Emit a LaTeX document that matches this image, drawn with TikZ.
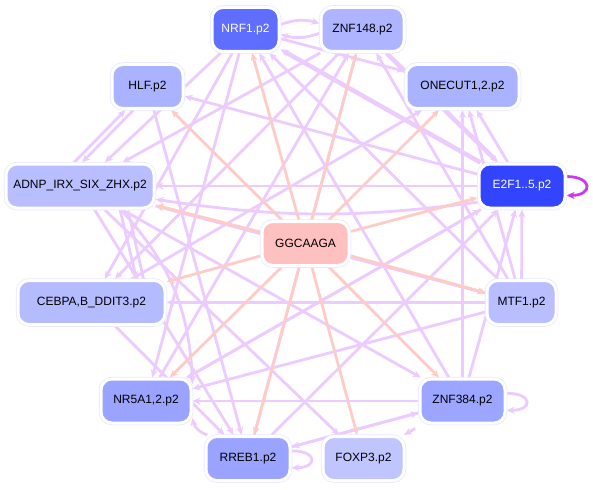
\documentclass[tikz,border=0pt]{standalone}
\usepackage{fontspec}
\setmainfont{Liberation Sans}
\usetikzlibrary{arrows.meta,backgrounds}
\definecolor{pedge}{HTML}{ECCBFF}
\definecolor{redge}{HTML}{FFCBC6}
\definecolor{lav}{HTML}{E6E8FF}
\definecolor{loopc}{HTML}{CC3AEE}
\definecolor{cNRF}{HTML}{5F6EFF}
\definecolor{cZNFa}{HTML}{AEB4FF}
\definecolor{cHLF}{HTML}{AAB3FF}
\definecolor{cONE}{HTML}{AAB3FF}
\definecolor{cADNP}{HTML}{B8BEFF}
\definecolor{cE2F}{HTML}{3344FF}
\definecolor{cGG}{HTML}{FFC0C0}
\definecolor{cCEB}{HTML}{B5BBFF}
\definecolor{cMTF}{HTML}{B8BEFF}
\definecolor{cNR5}{HTML}{9AA3FF}
\definecolor{cZNFb}{HTML}{9CA5FF}
\definecolor{cRRE}{HTML}{9AA3FF}
\definecolor{cFOX}{HTML}{C0C5FF}
\tikzset{
  tf/.style={rounded corners=11pt, minimum height=44pt, inner sep=0pt,
    font=\fontsize{12}{14}\selectfont,
    preaction={draw=lav, line width=4.5pt},
    draw=white, line width=3pt},
  pe/.style={draw=pedge, line width=2.8pt, -{Stealth[length=8pt,width=7pt]}},
  pthick/.style={pe, line width=4.5pt},
  re/.style={draw=redge, line width=2.8pt, -{Stealth[length=8pt,width=7pt]}},
  lp/.style={pe, looseness=4}
}
\begin{document}
\begin{tikzpicture}[x=1pt,y=-1pt]
\useasboundingbox (0,0) rectangle (593,489);
\node[tf, fill=cNRF, text=white, minimum width=67pt] (nrf) at (245.5,29.5) {NRF1.p2};
\node[tf, fill=cZNFa, minimum width=83pt] (znfa) at (362.5,29.5) {ZNF148.p2};
\node[tf, fill=cHLF, minimum width=71pt] (hlf) at (147.5,86.5) {HLF.p2};
\node[tf, fill=cONE, minimum width=113pt] (one) at (462.5,86.5) {ONECUT1,2.p2};
\node[tf, fill=cADNP, minimum width=148pt] (adnp) at (80,186) {ADNP\_IRX\_SIX\_ZHX.p2};
\node[tf, fill=cE2F, text=white, minimum width=86pt] (e2f) at (522,186) {E2F1..5.p2};
\node[tf, fill=cGG, minimum width=87pt] (gg) at (305.5,243.5) {GGCAAGA};
\node[tf, fill=cCEB, minimum width=147pt] (ceb) at (91.5,302.5) {CEBPA,B\_DDIT3.p2};
\node[tf, fill=cMTF, minimum width=69pt] (mtf) at (521.5,302.5) {MTF1.p2};
\node[tf, fill=cNR5, minimum width=90pt] (nr5) at (146,401) {NR5A1,2.p2};
\node[tf, fill=cZNFb, minimum width=85pt] (znfb) at (462.5,401) {ZNF384.p2};
\node[tf, fill=cRRE, minimum width=84pt] (rre) at (248,458.5) {RREB1.p2};
\node[tf, fill=cFOX, minimum width=81pt] (fox) at (363.5,458.5) {FOXP3.p2};
\begin{scope}[on background layer]
% purple edges
\draw[pe] (nrf.8) to[bend left=18] (znfa.172);
\draw[pe] (znfa.185) to[bend left=18] (nrf.-8);
\draw[pthick] (e2f) -- (nrf);
\draw[pe] (mtf) -- (nrf);
\draw[pe] (znfb) -- (nrf);
\draw[pe] (nrf) -- (one);
\draw[pe] (nrf) -- (adnp);
\draw[pe] (nrf) -- (ceb);
\draw[pe] (nrf) -- (nr5);
\draw[pe] (znfa) -- (adnp);
\draw[pe] (znfa) -- (ceb);
\draw[pe] (rre) -- (znfa);
\draw[pe] (nr5) -- (znfa);
\draw[pe] (mtf) -- (znfa);
\draw[pthick] (znfa) -- (e2f);
\draw[pe] (e2f) -- (hlf);
\draw[pe] ([xshift=-6pt]adnp.north) -- ([xshift=-22pt]hlf.south);
\draw[pe] ([xshift=-14pt]hlf.south) -- ([xshift=2pt]adnp.north);
\draw[pe] (hlf) -- (rre);
\draw[pe] (e2f) -- (one);
\draw[pe] (mtf) -- (one);
\draw[pe] (znfb) -- (one);
\draw[pe] (ceb) -- (one);
\draw[pe] (e2f) -- (adnp);
\draw[pe] (mtf) -- (adnp);
\draw[pe] (e2f.200) to[bend left=8] (adnp.-10);
\draw[pe] (adnp) -- (mtf);
\draw[pe] ([xshift=40pt]adnp.south) -- ([xshift=45pt]ceb.north);
\draw[pe] ([xshift=52pt]ceb.north) -- ([xshift=48pt]adnp.south);
\draw[pe] (adnp) -- (rre);
\draw[pe] (adnp) -- (fox);
\draw[pe] (adnp) -- (znfb);
\draw[pe] (adnp.-30) to[bend left=20] (nr5.20);
\draw[pe] (mtf) -- (e2f);
\draw[pe] (znfb) -- (e2f);
\draw[pe] (nr5) -- (e2f);
\draw[pe] (rre) -- (e2f);
\draw[pe] (mtf) -- (ceb);
\draw[pe] (ceb) -- (rre);
\draw[pe] (znfb) -- (nr5);
\draw[pe] (rre.150) to[bend left=30] (nr5.-20);
\draw[pe] (e2f) -- (nr5);
\draw[pe] (mtf) -- (nr5);
\draw[pe] (rre) -- (znfb);
\draw[pe] (znfb) -- (rre);
\draw[pe, shorten <=8pt] (znfb) -- (fox);
% self loops
\draw[draw=loopc, line width=2.8pt, -{Stealth[length=8pt,width=7pt]}] (e2f.12) to[out=0,in=0,looseness=3.6] (e2f.-12);
\draw[lp] (znfb.10) to[out=0,in=0] (znfb.-12);
\draw[lp] (rre.10) to[out=0,in=0] (rre.-12);
% pink edges from GGCAAGA
\foreach \t in {nrf,znfa,hlf,one,adnp,e2f,ceb,mtf,nr5,znfb,rre,fox}
  \draw[re] (gg) -- (\t);
\end{scope}
\end{tikzpicture}
\end{document}
